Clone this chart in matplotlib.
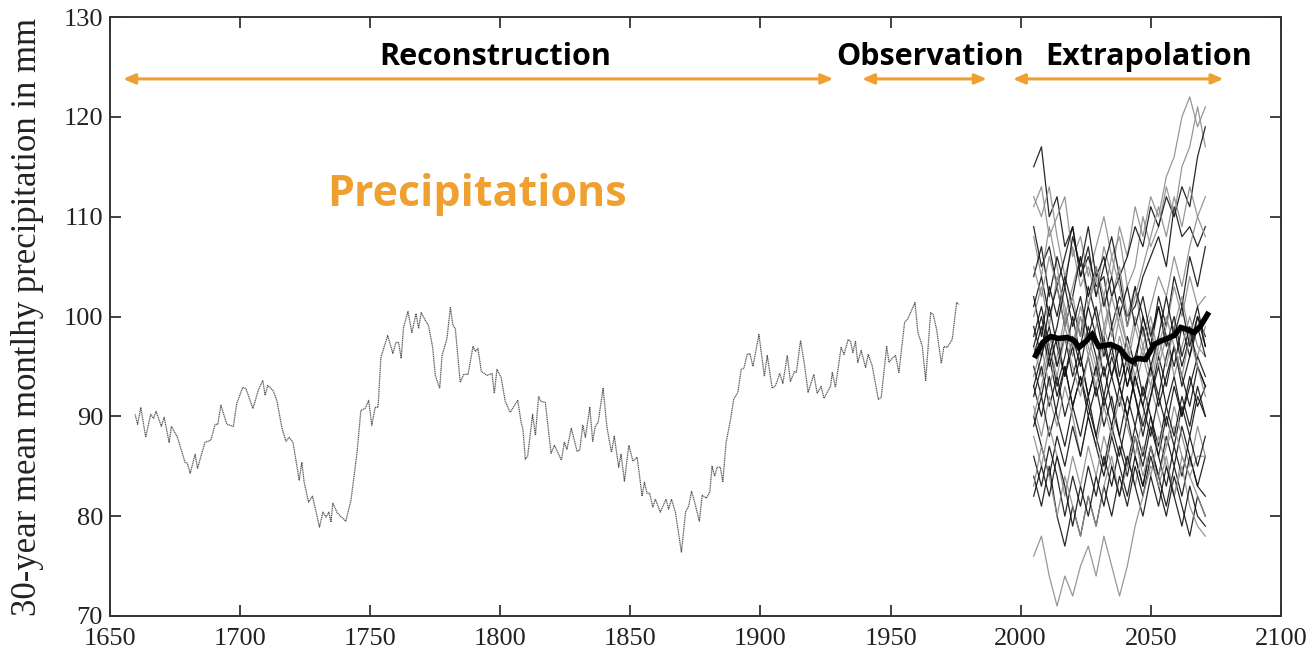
import numpy as np
import matplotlib
matplotlib.use('Agg')
from matplotlib import pyplot as plt

# reconstructed series (1660-1976)
rec_years = [1659.6, 1660.6, 1661.8, 1663.7, 1665.6, 1666.7, 1667.7, 1669.7, 1670.8, 1672.7,
             1673.6, 1675.9, 1678.8, 1679.7, 1680.8, 1682.7, 1683.6, 1686.5, 1688.7, 1690.4,
             1691.4, 1692.6, 1694.9, 1697.4, 1698.7, 1701.0, 1702.2, 1704.9, 1707.1, 1708.7,
             1709.6, 1710.6, 1712.6, 1714.1, 1716.0, 1717.6, 1718.8, 1720.3, 1722.7, 1723.7,
             1724.6, 1726.3, 1727.8, 1730.5, 1731.8, 1733.0, 1734.1, 1734.9, 1735.6, 1737.4,
             1740.6, 1742.6, 1744.9, 1746.4, 1748.1, 1749.4, 1750.6, 1751.9, 1753.0, 1754.1,
             1756.7, 1758.7, 1759.9, 1760.9, 1761.9, 1762.8, 1764.5, 1766.0, 1767.6, 1768.6,
             1769.6, 1771.2, 1772.4, 1774.0, 1775.0, 1776.7, 1777.6, 1779.5, 1780.8, 1781.8,
             1782.7, 1784.6, 1785.9, 1787.6, 1789.5, 1790.4, 1791.4, 1792.7, 1794.9, 1796.8,
             1797.7, 1798.7, 1800.3, 1801.9, 1803.8, 1806.7, 1808.0, 1808.7, 1809.6, 1810.5,
             1812.4, 1813.5, 1814.7, 1815.6, 1817.3, 1819.5, 1820.8, 1823.5, 1824.6, 1825.6,
             1827.3, 1829.5, 1830.5, 1831.7, 1832.7, 1834.4, 1835.5, 1836.5, 1837.6, 1839.5,
             1841.0, 1842.7, 1843.8, 1845.5, 1846.4, 1847.7, 1849.4, 1851.0, 1852.6, 1854.5,
             1855.4, 1856.4, 1857.4, 1858.6, 1859.6, 1861.5, 1863.7, 1864.7, 1865.8, 1867.3,
             1869.6, 1871.2, 1872.4, 1873.5, 1874.7, 1876.5, 1877.6, 1879.2, 1880.5, 1881.4,
             1882.4, 1883.3, 1884.6, 1885.5, 1886.8, 1888.5, 1889.7, 1891.3, 1892.6, 1893.6,
             1894.9, 1895.9, 1897.1, 1899.4, 1901.5, 1902.6, 1904.5, 1905.8, 1907.4, 1908.6,
             1910.3, 1911.5, 1913.1, 1913.8, 1915.4, 1916.9, 1918.3, 1920.5, 1921.8, 1923.3,
             1924.4, 1926.9, 1927.6, 1928.8, 1931.0, 1932.1, 1933.7, 1934.6, 1935.5, 1936.5,
             1937.4, 1938.7, 1940.4, 1941.4, 1942.9, 1945.3, 1946.4, 1948.5, 1949.4, 1950.6,
             1951.9, 1953.2, 1955.4, 1956.7, 1959.4, 1960.5, 1962.2, 1963.5, 1965.4, 1966.4,
             1967.7, 1969.5, 1970.5, 1971.8, 1973.7, 1975.4, 1976.3]
rec_values = [90.2, 89.2, 90.9, 87.9, 90.2, 89.8, 90.5, 89.0, 89.9, 87.4,
              89.0, 87.9, 85.4, 85.3, 84.3, 86.2, 84.8, 87.4, 87.6, 89.2,
              89.2, 91.1, 89.2, 89.0, 91.3, 92.9, 92.8, 90.8, 92.7, 93.6,
              92.1, 93.1, 92.6, 91.6, 88.9, 87.5, 87.9, 87.4, 83.6, 85.4,
              83.4, 81.4, 82.0, 78.9, 80.4, 79.9, 80.4, 79.4, 81.3, 80.3,
              79.5, 81.6, 86.3, 90.6, 90.8, 91.6, 89.1, 90.9, 90.9, 95.9,
              98.1, 96.3, 97.4, 97.4, 95.8, 98.9, 100.5, 98.4, 100.3, 98.8,
              100.4, 99.6, 99.1, 96.9, 94.1, 92.8, 96.1, 97.8, 100.9, 99.1,
              98.8, 93.4, 94.2, 94.2, 97.0, 96.5, 96.8, 94.5, 94.1, 94.3,
              92.3, 94.7, 93.9, 91.5, 90.4, 91.6, 89.4, 88.7, 85.7, 86.0,
              90.2, 88.1, 92.0, 91.5, 91.4, 86.3, 87.1, 85.6, 87.4, 86.7,
              88.8, 86.5, 86.6, 89.1, 87.9, 90.9, 87.5, 89.0, 89.4, 92.8,
              88.9, 86.4, 88.0, 84.9, 86.2, 83.5, 87.1, 85.5, 85.9, 82.0,
              83.4, 82.3, 82.3, 80.9, 81.7, 80.4, 81.7, 80.7, 81.7, 80.4,
              76.4, 80.4, 81.0, 82.5, 81.4, 79.5, 82.1, 81.8, 82.4, 85.0,
              84.0, 84.9, 84.9, 83.4, 87.4, 89.7, 91.7, 92.4, 94.7, 94.8,
              96.2, 96.3, 95.0, 98.2, 94.0, 96.1, 92.8, 93.1, 94.3, 93.3,
              96.1, 93.5, 94.5, 94.4, 97.6, 95.2, 92.4, 94.2, 92.3, 93.0,
              91.8, 93.0, 94.4, 92.9, 96.9, 96.2, 97.7, 97.5, 96.4, 97.5,
              95.4, 96.6, 94.9, 96.2, 95.1, 91.7, 91.9, 97.0, 95.4, 95.8,
              96.1, 94.4, 99.4, 99.8, 101.4, 98.4, 97.0, 93.6, 100.4, 100.2,
              98.7, 95.3, 97.0, 96.9, 97.7, 101.4, 101.2]

# extrapolation ensemble (2005-2071, every 3 years)
ens_years = [2005, 2008, 2011, 2014, 2017, 2020, 2023, 2026, 2029, 2032, 2035, 2038,
             2041, 2044, 2047, 2050, 2053, 2056, 2059, 2062, 2065, 2068, 2071]
ens_shades = ['k', 'g', 'g', 'k', 'g', 'k', 'k', 'g', 'k', 'k', 'g', 'k', 'k', 'g', 'k',
              'k', 'g', 'k', 'k', 'g', 'k', 'k', 'g', 'k', 'g', 'k', 'g', 'k', 'g', 'k']
ens_members = [
    [115, 117, 110, 112, 107, 109, 104, 106, 103, 104, 99, 102, 100, 101, 104, 106, 108, 105, 111, 108, 109, 107, 109],
    [112, 110, 113, 108, 104, 107, 103, 105, 102, 107, 104, 109, 106, 111, 108, 112, 110, 114, 116, 120, 122, 119, 121],
    [111, 113, 108, 110, 112, 106, 108, 104, 107, 110, 106, 108, 103, 105, 110, 107, 109, 113, 110, 115, 117, 121, 117],
    [109, 105, 107, 103, 106, 109, 104, 107, 102, 105, 108, 104, 106, 109, 107, 111, 109, 112, 110, 113, 111, 116, 119],
    [108, 104, 109, 105, 100, 103, 106, 101, 104, 99, 102, 105, 100, 103, 98, 101, 104, 102, 106, 103, 107, 110, 112],
    [104, 107, 102, 106, 103, 108, 105, 109, 104, 106, 102, 104, 99, 103, 100, 97, 102, 99, 104, 101, 106, 103, 107],
    [102, 98, 103, 100, 104, 101, 98, 103, 100, 96, 99, 94, 98, 95, 100, 97, 101, 98, 95, 99, 96, 100, 98],
    [100, 103, 99, 104, 101, 97, 100, 96, 99, 102, 98, 101, 97, 94, 97, 100, 96, 99, 103, 100, 104, 101, 102],
    [99, 96, 101, 97, 94, 98, 95, 99, 96, 92, 96, 93, 90, 94, 91, 95, 92, 96, 99, 95, 98, 101, 97],
    [98, 101, 97, 93, 96, 100, 96, 92, 95, 98, 94, 91, 95, 92, 88, 92, 96, 93, 97, 94, 91, 95, 93],
    [97, 94, 98, 95, 99, 96, 100, 97, 94, 98, 102, 99, 96, 100, 97, 94, 98, 95, 99, 102, 98, 96, 99],
    [96, 99, 95, 98, 94, 97, 93, 96, 92, 95, 91, 88, 92, 89, 93, 90, 86, 90, 87, 91, 88, 92, 90],
    [95, 92, 96, 92, 95, 91, 94, 90, 93, 89, 92, 88, 85, 89, 86, 90, 87, 91, 94, 90, 93, 96, 94],
    [94, 97, 93, 96, 100, 97, 101, 98, 95, 99, 96, 100, 97, 93, 96, 99, 95, 98, 94, 97, 100, 97, 96],
    [93, 90, 94, 90, 87, 91, 88, 92, 88, 85, 89, 86, 90, 86, 83, 87, 84, 88, 85, 89, 86, 83, 86],
    [92, 95, 91, 94, 90, 93, 96, 92, 95, 91, 94, 97, 93, 96, 92, 95, 91, 94, 97, 93, 96, 99, 96],
    [91, 88, 92, 89, 93, 90, 86, 90, 87, 91, 88, 92, 89, 86, 90, 93, 90, 87, 91, 88, 85, 89, 86],
    [90, 87, 84, 88, 85, 89, 86, 90, 87, 84, 88, 85, 82, 86, 83, 87, 84, 81, 85, 82, 86, 83, 82],
    [89, 92, 88, 91, 95, 91, 94, 91, 88, 92, 89, 93, 90, 94, 91, 88, 92, 89, 93, 90, 94, 91, 93],
    [88, 85, 89, 86, 82, 86, 83, 87, 84, 88, 85, 82, 86, 83, 87, 84, 88, 85, 82, 86, 84, 86, 86],
    [86, 83, 87, 84, 80, 84, 81, 85, 82, 86, 83, 87, 84, 88, 85, 89, 86, 83, 87, 84, 88, 85, 88],
    [84, 81, 85, 80, 77, 81, 78, 82, 79, 83, 80, 84, 81, 85, 82, 86, 83, 80, 84, 81, 78, 82, 80],
    [83, 87, 84, 80, 84, 81, 78, 82, 79, 83, 86, 82, 85, 88, 84, 87, 83, 86, 82, 85, 81, 79, 78],
    [82, 85, 82, 86, 83, 79, 83, 80, 84, 81, 85, 82, 86, 83, 80, 84, 81, 85, 82, 79, 83, 80, 79],
    [76, 78, 74, 71, 74, 72, 75, 77, 74, 78, 75, 72, 75, 79, 82, 85, 84, 87, 89, 86, 84, 82, 80],
    [101, 104, 100, 103, 99, 102, 106, 102, 105, 101, 104, 100, 103, 99, 102, 98, 101, 97, 100, 96, 99, 95, 93],
    [105, 102, 106, 103, 99, 102, 98, 101, 105, 102, 106, 103, 99, 102, 105, 108, 111, 108, 112, 109, 113, 110, 108],
    [93, 96, 99, 95, 98, 94, 97, 101, 98, 94, 97, 93, 96, 92, 89, 92, 95, 91, 88, 92, 89, 93, 90],
    [90, 93, 97, 94, 98, 95, 92, 96, 93, 97, 94, 98, 95, 99, 96, 93, 97, 100, 97, 94, 98, 95, 92],
    [97, 100, 96, 99, 103, 99, 102, 98, 101, 97, 94, 97, 93, 96, 99, 95, 98, 102, 98, 101, 97, 100, 97],
]

# ensemble mean (thick black line)
mean_years = [2005.8, 2008.5, 2011.5, 2014.5, 2017.9, 2020.5, 2022.4, 2025.0, 2027.5, 2030.0,
              2034.6, 2038.0, 2041.0, 2042.9, 2045.0, 2048.0, 2051.3, 2053.5, 2056.4, 2059.0,
              2061.5, 2064.0, 2066.7, 2069.0, 2071.8]
mean_values = [96.1, 97.4, 98.0, 97.8, 97.9, 97.6, 96.9, 97.5, 98.2, 97.0,
               97.2, 96.8, 95.8, 95.5, 95.8, 95.7, 97.2, 97.5, 97.8, 98.1,
               98.9, 98.7, 98.4, 99.0, 100.2]

periods = ['Reconstruction', 'Observation', 'Extrapolation']
period_spans = [(1655, 1928), (1939, 1987), (1997, 2078)]
period_label_x = [1798, 1965, 2049]
orange = '#F0A030'

fig = plt.figure(figsize=(13.15, 6.6), dpi=100)
ax = fig.add_axes([0.0837, 0.0667, 0.8903, 0.9075])

ax.plot(rec_years, rec_values, color='#5a5a5a', lw=0.9, ls=(0, (1, 0.5)))

shade_colors = {'k': '#111111', 'g': '#8c8c8c'}
for shade, member in zip(ens_shades, ens_members):
    ax.plot(ens_years, member, color=shade_colors[shade], lw=0.9, alpha=0.9)
ax.plot(mean_years, mean_values, color='black', lw=4, solid_joinstyle='miter')

# period arrows and labels
text_kw = dict(ha='center', va='center', fontweight='bold', family='Open Sans')
for name, (x0, x1), tx in zip(periods, period_spans, period_label_x):
    ax.annotate('', xy=(x0, 123.8), xytext=(x1, 123.8),
                arrowprops=dict(arrowstyle='<|-|>,head_length=0.7,head_width=0.3',
                                color=orange, lw=2.2, shrinkA=0, shrinkB=0))
    ax.text(tx, 126.0, name, fontsize=22, **text_kw)
ax.text(1791, 112.2, 'Precipitations', fontsize=31, color=orange, **text_kw)

ax.set_xlim(1650, 2100)
ax.set_ylim(70, 130)
ax.set_xticks(np.arange(1650, 2101, 50))
ax.set_yticks(np.arange(70, 131, 10))
ax.tick_params(direction='in', top=True, right=True, length=8, width=1.3,
               colors='#333333', labelsize=19)
ax.tick_params(axis='x', pad=9)
ax.tick_params(axis='y', pad=5)
for lbl in ax.get_xticklabels() + ax.get_yticklabels():
    lbl.set_family('Liberation Serif')
    lbl.set_color('#222222')
for sp in ax.spines.values():
    sp.set_linewidth(1.4)
    sp.set_color('#333333')
ax.set_ylabel('30-year mean montlhy precipitation in mm', family='Liberation Serif',
              fontsize=25, color='#222222', labelpad=14)

plt.savefig('out.png', dpi=100)
